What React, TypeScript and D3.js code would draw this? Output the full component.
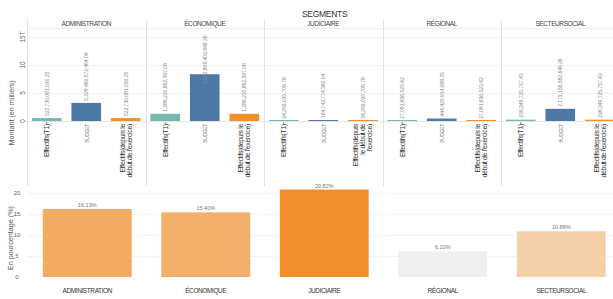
import React from "react";
import * as d3 from "d3";

const segments = ["ADMINISTRATION", "ÉCONOMIQUE", "JUDICIAIRE", "RÉGIONAL", "SECTEURSOCIAL"];
const measures = ["Effectifs(T1)", "BUDGET", "Effectifs(depuis le début de l'exercice)"];
const effectifsT1 = [522730081030.25, 1286220862397.08, 34293035709.78, 27091636523.62, 236349725757.43];
const budget = [3229460572464.09, 8352809403948.26, 164742774360.04, 444420914088.25, 2173156582649.26];
const effectifsCumul = [522730081030.25, 1286220862397.08, 34293035709.78, 27091636523.62, 236349725757.43];
const valueLabels = [
  ["522,730,081,030.25", "3,229,460,572,464.09", "522,730,081,030.25"],
  ["1,286,220,862,397.08", "8,352,809,403,948.26", "1,286,220,862,397.08"],
  ["34,293,035,709.78", "164,742,774,360.04", "34,293,035,709.78"],
  ["27,091,636,523.62", "444,420,914,088.25", "27,091,636,523.62"],
  ["236,349,725,757.43", "2,173,156,582,649.26", "236,349,725,757.43"],
];
const topTicks = [0, 5e12, 10e12, 15e12];
const topTickLabels = ["0", "5", "10", "15T"];
const percentages = [16.19, 15.4, 20.82, 6.1, 10.88];
const pctLabels = ["16.19%", "15.40%", "20.82%", "6.10%", "10.88%"];
const pctTicks = [0, 5, 10, 15, 20];

const measureColors = ["#76b7b2", "#4e79a7", "#f28e2b"];
const FONT = "'Liberation Sans', Arial, sans-serif";

export default function App() {
  const W = 613, H = 299;
  const panelX = d3.scaleBand<string>().domain(segments).range([27, 619.5]).padding(0);
  const inner = d3.scaleBand<string>().domain(measures).range([0, panelX.bandwidth()]).paddingInner(0.25).paddingOuter(0.125);
  const yTop = d3.scaleLinear().domain([0, 15e12]).range([121, 37]);
  const seriesVals = [effectifsT1, budget, effectifsCumul];

  const xB = d3.scaleBand<string>().domain(segments).range([28, 620.5]).paddingInner(0.25).paddingOuter(0.125);
  const yB = d3.scaleLinear().domain([0, 20]).range([277, 193]);
  const colorB = d3.scaleLinear<string>().domain([6.1, 10.88, 16.19, 20.82]).range(["#efefef", "#f3cfaa", "#f3aa62", "#f28e2b"]);

  const catLines = (si: number, mi: number): string[] => {
    if (mi === 0) return ["Effectifs(T1)"];
    if (mi === 1) return ["BUDGET"];
    if (si === 2) return ["Effectifs(depuis", "le début de", "l'exercice)"];
    return ["Effectifs(depuis le", "début de l'exercice)"];
  };

  return (
    <svg width={W} height={H} style={{ position: "absolute", left: 0, top: 0, fontFamily: FONT }}>
      <rect width={W} height={H} fill="#fff" />
      <text x={302} y={17} fontSize={8.5} fill="#333" letterSpacing={-0.3}>SEGMENTS</text>
      <line x1={27} x2={W} y1={28.5} y2={28.5} stroke="#efefef" />
      {topTicks.map((t, i) => (
        <line key={i} x1={27} x2={W} y1={yTop(t) + 0.5} y2={yTop(t) + 0.5} stroke={i === 0 ? "#e6e6e6" : "#f3f3f3"} />
      ))}
      {segments.map((s) => (
        <line key={s} x1={Math.round(panelX(s)!) + 0.5} x2={Math.round(panelX(s)!) + 0.5} y1={19} y2={186} stroke="#e2e2e2" />
      ))}
      {segments.map((s) => (
        <text key={s} x={panelX(s)! + panelX.bandwidth() / 2} y={26} fontSize={6.5} fill="#444" textAnchor="middle" letterSpacing={-0.4}>{s}</text>
      ))}
      {topTicks.map((t, i) => (
        <text key={i} transform={`translate(25,${yTop(t)}) rotate(-90)`} fontSize={6.5} fill="#666" textAnchor="middle">{topTickLabels[i]}</text>
      ))}
      <text transform="translate(14,113) rotate(-90)" fontSize={7.2} fill="#555" textAnchor="middle">Montant (en milliers)</text>
      {segments.map((s, si) =>
        measures.map((m, mi) => {
          const v = seriesVals[mi][si];
          const x = panelX(s)! + inner(m)!;
          const bw = inner.bandwidth();
          const y = yTop(v);
          const h = Math.max(yTop(0) - y, 1);
          const cx = x + bw / 2;
          const label = valueLabels[si][mi];
          const estLen = label.length * 3.05;
          let start = y - 2;
          if (start - estLen < 23) start = 23 + estLen;
          const lines = catLines(si, mi);
          return (
            <g key={s + m}>
              <rect x={x} y={yTop(0) - h} width={bw} height={h} fill={measureColors[mi]} />
              {mi === 0 && <line x1={cx} x2={cx} y1={122} y2={124} stroke="#555" strokeWidth={0.8} />}
              <text transform={`translate(${cx + 1.8},${start}) rotate(-90)`} fontSize={5.2} fill="#8a8a8a" letterSpacing={-0.1}>{label}</text>
              {lines.map((ln, li) => (
                <text key={li}
                  transform={`translate(${cx + 2.3 + (li - (lines.length - 1) / 2) * 7},124) rotate(-90)`}
                  fontSize={mi === 1 ? 5 : 7} fill={mi === 1 ? "#777" : "#333"} textAnchor="end" letterSpacing={-0.35}>{ln}</text>
              ))}
            </g>
          );
        })
      )}

      {pctTicks.map((t) => (
        <g key={t}>
          {t > 0 && <line x1={28} x2={W} y1={yB(t) + 0.5} y2={yB(t) + 0.5} stroke="#f3f3f3" />}
          <text x={17} y={yB(t) + 2} fontSize={6} fill="#666" textAnchor="middle">{t}</text>
        </g>
      ))}
      <text transform="translate(13,238) rotate(-90)" fontSize={7.2} fill="#555" textAnchor="middle">En pourcentage (%)</text>
      {segments.map((s, i) => {
        const x = xB(s)!;
        const bw = xB.bandwidth();
        const y = yB(percentages[i]);
        return (
          <g key={s}>
            <rect x={x} y={y} width={bw} height={yB(0) - y} fill={colorB(percentages[i])} />
            <text x={x + bw / 2} y={y - 2} fontSize={5.5} fill="#777" textAnchor="middle">{pctLabels[i]}</text>
            <text x={x + bw / 2} y={293} fontSize={6.5} fill="#333" textAnchor="middle" letterSpacing={-0.4}>{s}</text>
          </g>
        );
      })}
    </svg>
  );
}
